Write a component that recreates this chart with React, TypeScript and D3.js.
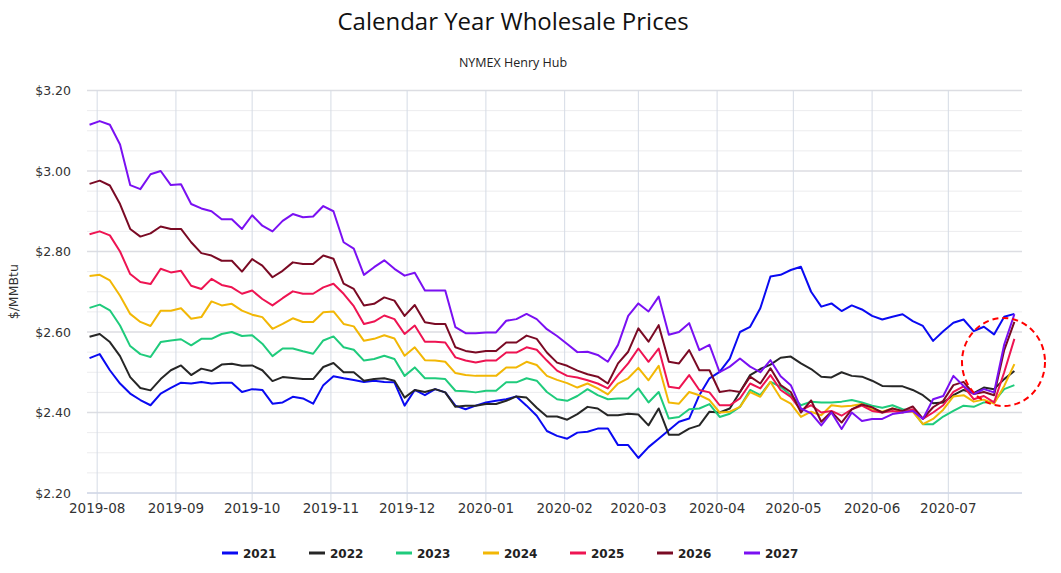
import React, { useEffect } from 'react';
import * as d3 from 'd3';

const titleText = 'Calendar Year Wholesale Prices';
const subtitleText = 'NYMEX Henry Hub';
const yAxisTitle = '$/MMBtu';

const dates = [
  '2019-07-29','2019-08-02','2019-08-06','2019-08-10','2019-08-14','2019-08-18','2019-08-22','2019-08-26','2019-08-30','2019-09-03',
  '2019-09-07','2019-09-11','2019-09-15','2019-09-19','2019-09-23','2019-09-27','2019-10-01','2019-10-05','2019-10-09','2019-10-13',
  '2019-10-17','2019-10-21','2019-10-25','2019-10-29','2019-11-02','2019-11-06','2019-11-10','2019-11-14','2019-11-18','2019-11-22',
  '2019-11-26','2019-11-30','2019-12-04','2019-12-08','2019-12-12','2019-12-16','2019-12-20','2019-12-24','2019-12-28','2020-01-01',
  '2020-01-05','2020-01-09','2020-01-13','2020-01-17','2020-01-21','2020-01-25','2020-01-29','2020-02-02','2020-02-06','2020-02-10',
  '2020-02-14','2020-02-18','2020-02-22','2020-02-26','2020-03-01','2020-03-05','2020-03-09','2020-03-13','2020-03-17','2020-03-21',
  '2020-03-25','2020-03-29','2020-04-02','2020-04-06','2020-04-10','2020-04-14','2020-04-18','2020-04-22','2020-04-26','2020-04-30',
  '2020-05-04','2020-05-08','2020-05-12','2020-05-16','2020-05-20','2020-05-24','2020-05-28','2020-06-01','2020-06-05','2020-06-09',
  '2020-06-13','2020-06-17','2020-06-21','2020-06-25','2020-06-29','2020-07-03','2020-07-07','2020-07-11','2020-07-15','2020-07-19',
  '2020-07-23','2020-07-27'
];

const s2021 = [
  2.535,2.545,2.505,2.472,2.447,2.431,2.418,2.447,2.461,2.474,
  2.472,2.476,2.472,2.474,2.474,2.451,2.458,2.456,2.422,2.425,
  2.439,2.435,2.422,2.468,2.490,2.485,2.481,2.476,2.479,2.476,
  2.475,2.417,2.456,2.443,2.458,2.450,2.417,2.408,2.417,2.425,
  2.429,2.433,2.440,2.417,2.392,2.354,2.342,2.335,2.350,2.352,
  2.360,2.360,2.319,2.319,2.287,2.314,2.335,2.356,2.377,2.385,
  2.443,2.485,2.501,2.534,2.600,2.613,2.659,2.738,2.742,2.754,
  2.762,2.700,2.663,2.671,2.652,2.666,2.656,2.640,2.631,2.638,
  2.644,2.627,2.615,2.578,2.602,2.623,2.631,2.602,2.613,2.594,
  2.638,2.645
];
const s2022 = [
  2.588,2.595,2.575,2.540,2.488,2.461,2.455,2.483,2.505,2.517,
  2.493,2.509,2.503,2.519,2.521,2.516,2.517,2.505,2.478,2.488,
  2.486,2.483,2.483,2.513,2.523,2.500,2.500,2.479,2.483,2.485,
  2.479,2.437,2.456,2.451,2.458,2.450,2.414,2.417,2.417,2.421,
  2.421,2.429,2.440,2.437,2.412,2.390,2.390,2.382,2.396,2.414,
  2.410,2.393,2.393,2.397,2.395,2.368,2.410,2.345,2.345,2.360,
  2.368,2.402,2.400,2.410,2.451,2.493,2.508,2.519,2.536,2.539,
  2.522,2.508,2.489,2.487,2.500,2.491,2.489,2.479,2.466,2.465,
  2.465,2.456,2.443,2.423,2.425,2.443,2.456,2.448,2.462,2.458,
  2.483,2.503
];
const s2023 = [
  2.660,2.668,2.654,2.616,2.565,2.545,2.538,2.575,2.579,2.582,
  2.567,2.583,2.583,2.595,2.600,2.590,2.592,2.571,2.540,2.559,
  2.559,2.552,2.546,2.579,2.589,2.562,2.556,2.529,2.533,2.541,
  2.533,2.491,2.512,2.485,2.485,2.483,2.454,2.453,2.450,2.454,
  2.454,2.475,2.475,2.485,2.479,2.451,2.433,2.429,2.441,2.458,
  2.443,2.433,2.435,2.435,2.460,2.425,2.451,2.385,2.389,2.408,
  2.410,2.421,2.389,2.397,2.414,2.456,2.443,2.476,2.464,2.443,
  2.418,2.427,2.425,2.425,2.427,2.431,2.425,2.417,2.412,2.418,
  2.408,2.404,2.371,2.371,2.390,2.404,2.417,2.414,2.425,2.427,
  2.458,2.468
];
const s2024 = [
  2.739,2.742,2.728,2.690,2.645,2.625,2.615,2.653,2.653,2.659,
  2.633,2.637,2.676,2.666,2.670,2.653,2.643,2.637,2.608,2.620,
  2.634,2.625,2.625,2.649,2.651,2.620,2.614,2.578,2.583,2.592,
  2.584,2.541,2.562,2.530,2.529,2.526,2.498,2.493,2.491,2.491,
  2.491,2.512,2.512,2.526,2.518,2.491,2.481,2.473,2.462,2.472,
  2.460,2.445,2.472,2.485,2.511,2.480,2.516,2.425,2.422,2.451,
  2.443,2.431,2.400,2.402,2.414,2.451,2.439,2.476,2.436,2.422,
  2.389,2.402,2.393,2.418,2.415,2.417,2.421,2.408,2.402,2.410,
  2.402,2.402,2.371,2.384,2.407,2.440,2.443,2.427,2.432,2.422,
  2.466,2.520
];
const s2025 = [
  2.843,2.850,2.840,2.800,2.744,2.724,2.719,2.757,2.748,2.752,
  2.715,2.707,2.732,2.717,2.711,2.695,2.703,2.682,2.666,2.684,
  2.701,2.695,2.695,2.711,2.720,2.695,2.664,2.620,2.626,2.641,
  2.632,2.595,2.616,2.576,2.576,2.574,2.537,2.529,2.524,2.529,
  2.529,2.549,2.549,2.562,2.556,2.529,2.504,2.491,2.487,2.480,
  2.472,2.460,2.493,2.522,2.559,2.526,2.559,2.464,2.460,2.493,
  2.456,2.450,2.418,2.418,2.435,2.472,2.460,2.493,2.456,2.439,
  2.406,2.418,2.400,2.404,2.392,2.408,2.417,2.404,2.400,2.404,
  2.400,2.408,2.384,2.400,2.418,2.451,2.465,2.433,2.441,2.425,
  2.500,2.583
];
const s2026 = [
  2.968,2.976,2.964,2.918,2.856,2.837,2.845,2.862,2.856,2.856,
  2.823,2.796,2.790,2.777,2.777,2.750,2.781,2.765,2.736,2.752,
  2.773,2.769,2.769,2.790,2.782,2.720,2.707,2.666,2.670,2.686,
  2.678,2.640,2.667,2.624,2.620,2.620,2.562,2.553,2.549,2.553,
  2.553,2.574,2.574,2.591,2.583,2.549,2.524,2.516,2.504,2.495,
  2.489,2.472,2.522,2.551,2.609,2.576,2.617,2.526,2.522,2.555,
  2.505,2.505,2.451,2.455,2.451,2.489,2.472,2.510,2.468,2.451,
  2.400,2.430,2.377,2.402,2.375,2.408,2.420,2.413,2.400,2.410,
  2.404,2.415,2.385,2.413,2.429,2.468,2.476,2.446,2.451,2.443,
  2.555,2.625
];
const s2027 = [
  3.115,3.124,3.115,3.066,2.965,2.955,2.992,3.000,2.965,2.967,
  2.918,2.907,2.900,2.880,2.880,2.856,2.890,2.864,2.850,2.876,
  2.893,2.885,2.887,2.913,2.900,2.823,2.807,2.742,2.761,2.778,
  2.757,2.740,2.747,2.703,2.703,2.703,2.612,2.597,2.597,2.599,
  2.599,2.628,2.632,2.645,2.632,2.607,2.590,2.570,2.550,2.551,
  2.543,2.526,2.568,2.640,2.671,2.651,2.688,2.593,2.600,2.622,
  2.555,2.568,2.500,2.514,2.534,2.514,2.500,2.530,2.490,2.468,
  2.410,2.398,2.368,2.400,2.359,2.400,2.379,2.384,2.384,2.396,
  2.400,2.404,2.384,2.433,2.441,2.491,2.466,2.446,2.458,2.450,
  2.569,2.644
];

const seriesNames = ['2021', '2022', '2023', '2024', '2025', '2026', '2027'];
const seriesColors = ['#0a0af2', '#262626', '#1fcb7c', '#f2b705', '#ee1452', '#7a0a24', '#7a10f2'];
const yLabelValues = [2.2, 2.4, 2.6, 2.8, 3.0, 3.2];

export default function App() {
  useEffect(() => {
    document.body.style.margin = '0';
  }, []);

  const W = 1061;
  const H = 573;
  const left = 87, right = 1022, top = 90.5, bottom = 493;
  const parse = d3.utcParse('%Y-%m-%d');
  const parsed = dates.map((d) => parse(d) as Date);
  const x = d3.scaleUtc().domain([parse('2019-07-28') as Date, parse('2020-07-30') as Date]).range([left, right]);
  const y = d3.scaleLinear().domain([2.2, 3.2]).range([bottom, top]);
  const allSeries = [s2021, s2022, s2023, s2024, s2025, s2026, s2027];

  const line = d3
    .line<number>()
    .x((_, i) => x(parsed[i]))
    .y((d) => y(d))
    .curve(d3.curveLinear);

  const monthTicks = x.ticks(d3.utcMonth.every(1) as any).filter((d) => d >= (parse('2019-08-01') as Date) && d <= (parse('2020-07-01') as Date));
  const fmt = d3.utcFormat('%Y-%m');
  const minorTicks = y.ticks(25);

  const axisFont = '"DejaVu Sans", Verdana, sans-serif';

  return (
    <svg width={W} height={H} style={{ position: 'absolute', left: 0, top: 0, background: '#fff' }}>
      <rect x={0} y={0} width={W} height={H} fill="#ffffff" />
      <text x={513} y={30} textAnchor="middle" fontFamily='"Open Sans", sans-serif' fontSize={24} fill="#111">
        {titleText}
      </text>
      <text x={513} y={67} textAnchor="middle" fontFamily='"Open Sans", sans-serif' fontSize={12.5} fill="#222">
        {subtitleText}
      </text>

      {minorTicks.map((t, i) => {
        const major = Math.abs(t * 5 - Math.round(t * 5)) < 1e-6;
        return (
          <line
            key={'h' + i}
            x1={left}
            x2={right}
            y1={y(t)}
            y2={y(t)}
            stroke={major ? '#dcdde2' : '#ececee'}
            strokeWidth={major ? 1.6 : 1}
          />
        );
      })}

      {monthTicks.map((d, i) => (
        <line key={'v' + i} x1={x(d)} x2={x(d)} y1={top} y2={bottom + 9} stroke="#d5dbe5" strokeWidth={1} />
      ))}
      <line x1={left} x2={right} y1={bottom} y2={bottom} stroke="#ccd6eb" strokeWidth={1} />

      {yLabelValues.map((v, i) => (
        <text key={'yl' + i} x={71} y={y(v) + 4.5} textAnchor="end" fontFamily={axisFont} fontSize={12.5} fill="#333">
          {'$' + v.toFixed(2)}
        </text>
      ))}
      <text
        transform={`translate(18, ${(top + bottom) / 2}) rotate(-90)`}
        textAnchor="middle"
        fontFamily={axisFont}
        fontSize={12.5}
        fill="#333"
      >
        {yAxisTitle}
      </text>

      {monthTicks.map((d, i) => (
        <text key={'xl' + i} x={x(d)} y={513} textAnchor="middle" fontFamily={axisFont} fontSize={13.5} fill="#333">
          {fmt(d)}
        </text>
      ))}

      {allSeries.map((s, k) => (
        <path key={'s' + k} d={line(s) || ''} fill="none" stroke={seriesColors[k]} strokeWidth={2} strokeLinejoin="round" />
      ))}

      <ellipse cx={1003.5} cy={362} rx={41.5} ry={44} fill="none" stroke="#ff0000" strokeWidth={2} strokeDasharray="6,4" />

      {seriesNames.map((name, k) => {
        const lx = 222 + k * 87;
        return (
          <g key={'lg' + k}>
            <line x1={lx} x2={lx + 16} y1={553} y2={553} stroke={seriesColors[k]} strokeWidth={3} />
            <text x={lx + 21} y={557.5} fontFamily={axisFont} fontWeight="bold" fontSize={12} fill="#222">
              {name}
            </text>
          </g>
        );
      })}
    </svg>
  );
}
